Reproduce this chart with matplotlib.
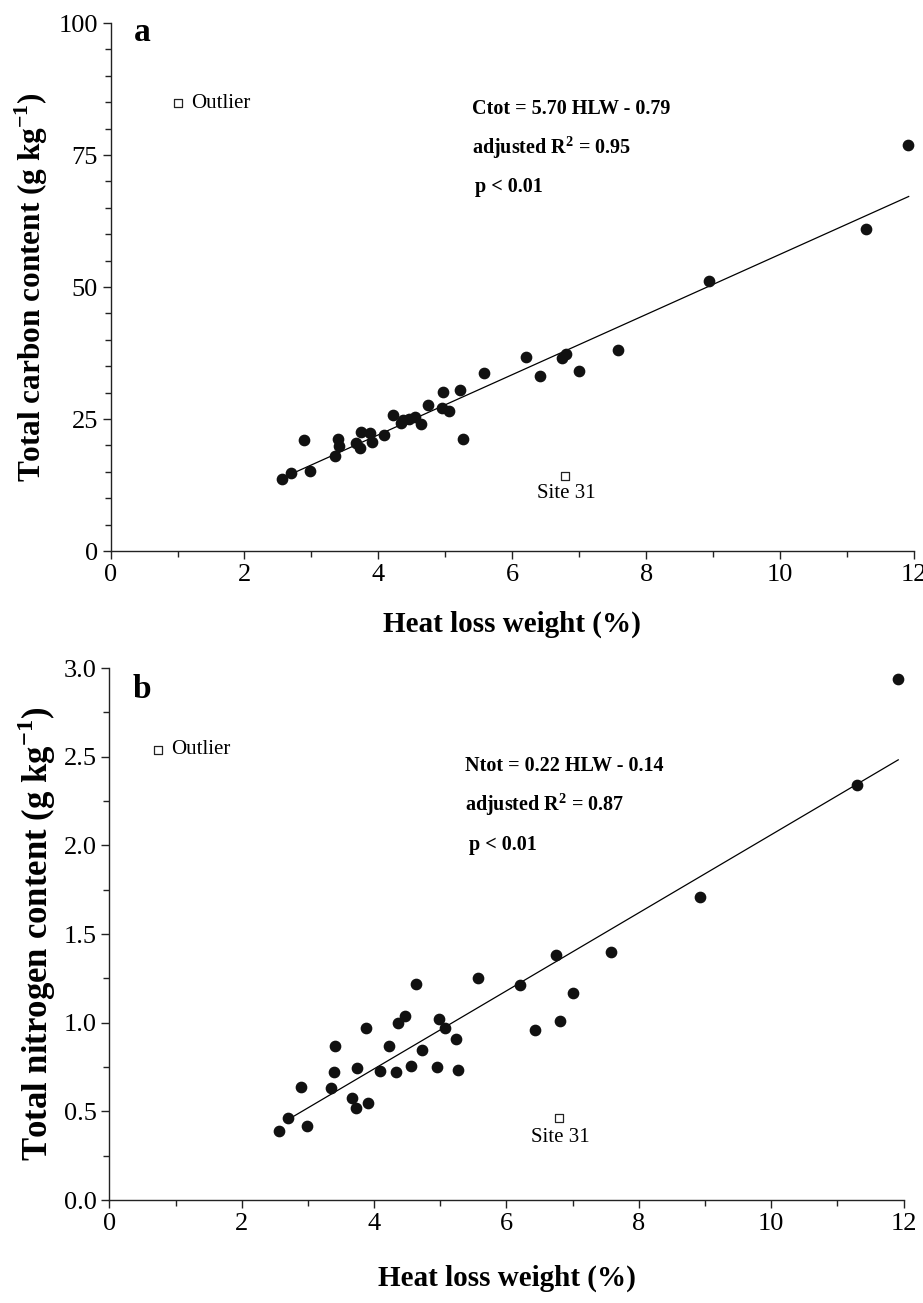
import numpy as np
import matplotlib
matplotlib.use('Agg')
import matplotlib.pyplot as plt
from matplotlib.ticker import MultipleLocator

plt.rcParams['font.family'] = ['Liberation Serif', 'DejaVu Serif']
plt.rcParams['mathtext.fontset'] = 'custom'
plt.rcParams['mathtext.rm'] = 'Liberation Serif'
plt.rcParams['mathtext.bf'] = 'Liberation Serif:bold'

# heat loss weight (%) of the samples, shared by both panels
hlw = [2.56, 2.70, 2.89, 2.98, 3.35, 3.39, 3.41, 3.67, 3.74, 3.73, 3.87, 3.91,
       4.08, 4.22, 4.34, 4.36, 4.46, 4.55, 4.64, 4.74, 4.95, 4.97, 5.06, 5.22,
       5.26, 5.57, 6.20, 6.42, 6.74, 6.80, 6.99, 7.58, 8.94, 11.28, 11.91]
# total carbon (g/kg), same order as hlw
ctot = [13.6, 14.8, 21.0, 15.2, 18.0, 21.2, 19.8, 20.4, 22.5, 19.6, 22.4, 20.6,
        21.9, 25.8, 24.2, 24.9, 25.1, 25.4, 24.0, 27.7, 27.1, 30.1, 26.5, 30.5,
        21.2, 33.8, 36.8, 33.1, 36.5, 37.4, 34.1, 38.1, 51.1, 61.0, 76.9]

# panel b has its own point order (read separately)
hlw_b = [2.56, 2.70, 2.89, 2.98, 3.35, 3.39, 3.41, 3.67, 3.73, 3.74, 3.88, 3.91,
         4.09, 4.23, 4.33, 4.36, 4.46, 4.55, 4.63, 4.73, 4.95, 4.98, 5.07, 5.23,
         5.26, 5.57, 6.20, 6.43, 6.75, 6.81, 7.00, 7.58, 8.92, 11.30, 11.92]
ntot = [0.39, 0.46, 0.64, 0.42, 0.63, 0.72, 0.87, 0.575, 0.52, 0.745, 0.97, 0.545,
        0.725, 0.87, 0.72, 1.00, 1.04, 0.755, 1.22, 0.845, 0.75, 1.02, 0.97, 0.91,
        0.735, 1.25, 1.21, 0.96, 1.38, 1.01, 1.17, 1.40, 1.71, 2.34, 2.94]

# excluded points: (x, y) for legend "Outlier" marker and Site 31
outlier_a = (1.01, 84.8)
site31_a = (6.79, 14.3)
outlier_b = (0.73, 2.54)
site31_b = (6.79, 0.46)

# regression coefficients (slope, intercept)
coef_c = (5.70, -0.79)
coef_n = (0.22, -0.14)
fit_range = (2.7, 11.92)

fig = plt.figure(figsize=(9.23, 13.03), dpi=100)
ax1 = fig.add_axes([0.1198, 0.5771, 0.8705, 0.4052])
ax2 = fig.add_axes([0.1186, 0.0790, 0.8603, 0.4083])

txt_font = dict(fontsize=14.5, fontweight='bold')


def style(ax, ymax, ymaj, ymin):
    for s in ['top', 'right']:
        ax.spines[s].set_visible(False)
    for s in ['left', 'bottom']:
        ax.spines[s].set_linewidth(1.0)
        ax.spines[s].set_color('#222222')
    ax.set_xlim(0, 12)
    ax.set_ylim(0, ymax)
    ax.xaxis.set_major_locator(MultipleLocator(2))
    ax.xaxis.set_minor_locator(MultipleLocator(1))
    ax.yaxis.set_major_locator(MultipleLocator(ymaj))
    ax.yaxis.set_minor_locator(MultipleLocator(ymin))
    ax.tick_params(which='major', direction='out', length=6, width=1,
                   labelsize=19, pad=3, color='#222222')
    ax.tick_params(which='minor', direction='out', length=4, width=1,
                   color='#222222')


xf = np.array(fit_range)

# ---- panel a
style(ax1, 100, 25, 5)
ax1.scatter(hlw, ctot, s=55, color='#111111', zorder=3, clip_on=False)
ax1.plot(xf, coef_c[0] * xf + coef_c[1], color='black', lw=0.9)
ax1.scatter(*outlier_a, s=40, marker='s', facecolor='white', edgecolor='#222222', lw=0.9)
ax1.text(outlier_a[0] + 0.2, outlier_a[1], 'Outlier', fontsize=15, va='center')
ax1.scatter(*site31_a, s=40, marker='s', facecolor='white', edgecolor='#222222', lw=0.9)
ax1.text(site31_a[0] + 0.02, site31_a[1] - 3.4, 'Site 31', fontsize=15, ha='center', va='center')
ax1.text(0.35, 98.3, 'a', fontsize=24, fontweight='bold', va='center')
ax1.text(5.4, 83.8, 'Ctot = 5.70 HLW - 0.79', va='center', **txt_font)
ax1.text(5.4, 76.4, r'adjusted R$^{\mathbf{2}}$ = 0.95', va='center', **txt_font)
ax1.text(5.45, 68.9, 'p < 0.01', va='center', **txt_font)
ax1.set_xlabel('Heat loss weight (%)', labelpad=18, fontsize=21, fontweight='bold')
ax1.set_ylabel(r'Total carbon content (g kg$^{\mathbf{-1}}$)', labelpad=6,
               fontsize=22.5, fontweight='bold')

# ---- panel b
style(ax2, 3.0, 0.5, 0.25)
ax2.yaxis.set_major_formatter(matplotlib.ticker.FormatStrFormatter('%.1f'))
ax2.scatter(hlw_b, ntot, s=55, color='#111111', zorder=3, clip_on=False)
ax2.plot(xf, coef_n[0] * xf + coef_n[1], color='black', lw=0.9)
ax2.scatter(*outlier_b, s=40, marker='s', facecolor='white', edgecolor='#222222', lw=0.9)
ax2.text(outlier_b[0] + 0.2, outlier_b[1], 'Outlier', fontsize=15, va='center')
ax2.scatter(*site31_b, s=40, marker='s', facecolor='white', edgecolor='#222222', lw=0.9)
ax2.text(site31_b[0] + 0.02, site31_b[1] - 0.11, 'Site 31', fontsize=15, ha='center', va='center')
ax2.text(0.35, 2.88, 'b', fontsize=24, fontweight='bold', va='center')
ax2.text(5.37, 2.45, 'Ntot = 0.22 HLW - 0.14', va='center', **txt_font)
ax2.text(5.37, 2.23, r'adjusted R$^{\mathbf{2}}$ = 0.87', va='center', **txt_font)
ax2.text(5.43, 2.0, 'p < 0.01', va='center', **txt_font)
ax2.set_xlabel('Heat loss weight (%)', labelpad=22, fontsize=21, fontweight='bold')
ax2.set_ylabel(r'Total nitrogen content (g kg$^{\mathbf{-1}}$)', labelpad=4,
               fontsize=25, fontweight='bold')

plt.savefig('out.png', dpi=100)
